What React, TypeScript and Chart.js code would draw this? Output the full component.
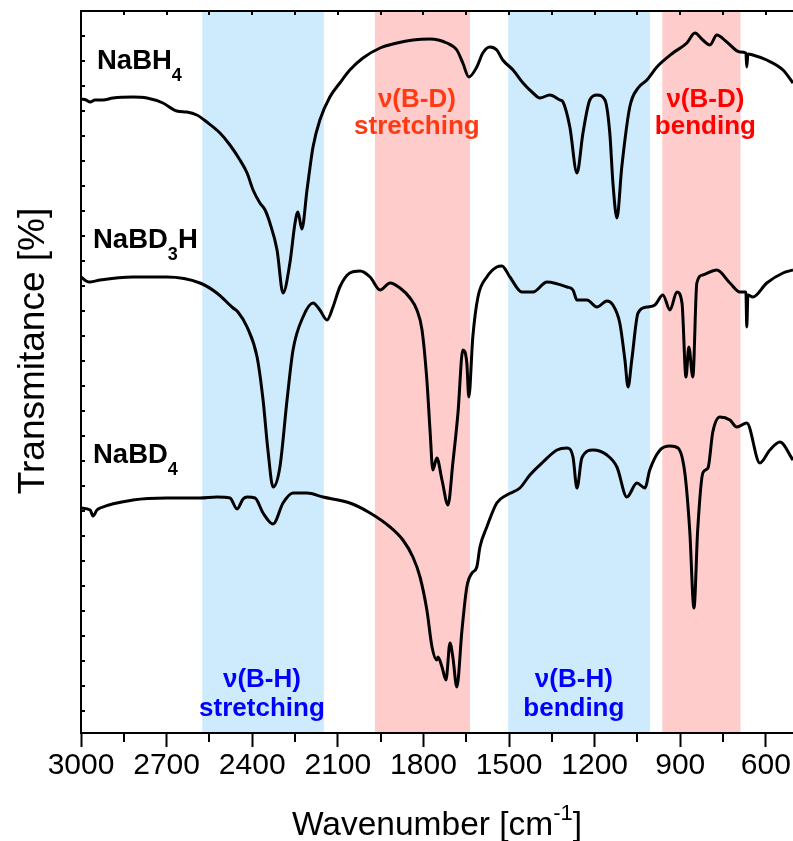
import React, { useEffect, useRef } from "react";
import { Chart, registerables } from "chart.js";

Chart.register(...registerables);

// ---------- data (wavenumber in cm-1, transmittance in arbitrary offset units) ----------
const nabh4Wn = [3000, 2982, 2968, 2951, 2923, 2888, 2818, 2769, 2713, 2664, 2629, 2594, 2559, 2513, 2478, 2443, 2418, 2397, 2373, 2355, 2338, 2313, 2292, 2268, 2250, 2240, 2226, 2208, 2187, 2163, 2128, 2093, 2058, 2012, 1952, 1893, 1837, 1777, 1718, 1683, 1662, 1641, 1613, 1592, 1567, 1543, 1522, 1486, 1451, 1416, 1392, 1357, 1322, 1311, 1287, 1262, 1241, 1217, 1192, 1164, 1147, 1136, 1122, 1105, 1077, 1048, 1017, 982, 926, 877, 849, 821, 796, 772, 737, 691, 670, 667, 663, 646, 597, 540, 505];
const nabh4T = [634, 633, 631, 633, 633, 635, 636, 635, 630, 622, 621, 618, 611, 600, 588, 573, 560, 543, 530, 523, 510, 483, 440, 470, 510, 521, 504, 543, 586, 613, 636, 650, 663, 675, 685, 690, 693, 694, 690, 683, 670, 656, 666, 680, 686, 683, 673, 663, 650, 640, 635, 638, 633, 631, 606, 560, 600, 633, 638, 633, 600, 550, 515, 566, 626, 645, 653, 666, 680, 690, 700, 693, 688, 698, 691, 681, 680, 666, 679, 678, 673, 663, 650];

const nabd3hWn = [3000, 2982, 2968, 2933, 2818, 2699, 2583, 2524, 2467, 2450, 2418, 2383, 2362, 2345, 2327, 2303, 2278, 2257, 2222, 2187, 2163, 2138, 2117, 2093, 2058, 2022, 1987, 1952, 1917, 1882, 1847, 1823, 1805, 1788, 1777, 1767, 1753, 1735, 1714, 1697, 1679, 1662, 1648, 1641, 1627, 1609, 1578, 1543, 1525, 1497, 1455, 1416, 1367, 1297, 1276, 1262, 1227, 1192, 1157, 1136, 1112, 1094, 1083, 1070, 1048, 1017, 989, 961, 936, 912, 894, 880, 870, 856, 842, 821, 772, 726, 691, 670, 667, 663, 646, 597, 540, 505];
const nabd3hT = [456, 452, 451, 453, 456, 456, 450, 440, 425, 421, 406, 376, 333, 283, 246, 266, 333, 383, 416, 430, 423, 413, 426, 446, 460, 462, 456, 443, 450, 445, 435, 423, 403, 353, 303, 263, 275, 253, 228, 270, 320, 383, 370, 336, 396, 436, 456, 466, 467, 456, 441, 441, 451, 446, 443, 433, 433, 426, 432, 428, 410, 373, 346, 373, 420, 426, 428, 438, 423, 441, 430, 356, 386, 356, 450, 458, 463, 450, 441, 441, 406, 438, 436, 450, 460, 463];

const nabd4Wn = [3000, 2968, 2958, 2944, 2933, 2818, 2699, 2583, 2524, 2478, 2453, 2432, 2418, 2390, 2362, 2327, 2292, 2257, 2208, 2152, 2058, 1987, 1917, 1872, 1837, 1812, 1788, 1770, 1753, 1749, 1735, 1721, 1707, 1697, 1683, 1665, 1648, 1630, 1613, 1602, 1578, 1543, 1508, 1462, 1427, 1381, 1332, 1297, 1276, 1262, 1245, 1206, 1157, 1122, 1087, 1052, 1024, 1007, 971, 936, 908, 884, 867, 852, 839, 821, 803, 786, 761, 726, 702, 667, 621, 586, 551, 505];
const nabd4T = [225, 223, 217, 223, 225, 233, 235, 235, 236, 235, 224, 234, 236, 235, 220, 209, 230, 240, 240, 236, 230, 220, 206, 193, 176, 156, 123, 86, 73, 76, 66, 53, 90, 76, 46, 103, 146, 160, 166, 186, 206, 230, 238, 245, 258, 271, 283, 285, 276, 245, 275, 283, 278, 266, 236, 250, 245, 263, 283, 287, 285, 260, 203, 125, 203, 260, 265, 301, 316, 313, 306, 310, 270, 283, 291, 273];

// shaded band limits (cm-1)
const bandStart = [2575, 1970, 1503, 963];
const bandEnd = [2149, 1637, 1006, 689];
const bandColor = ["#cdebfc", "#ffcccc", "#cdebfc", "#ffcccc"];

// band annotation texts and their centre wavenumbers
const annotTop = ["\u03bd(B-D)", "\u03bd(B-D)", "\u03bd(B-H)", "\u03bd(B-H)"];
const annotBottom = ["stretching", "bending", "stretching", "bending"];
const annotWn = [1823, 812, 2366, 1273];
const annotColor = ["#ff3a12", "#ff0000", "#0000ff", "#0000ff"];
const annotRow = ["top", "top", "bottom", "bottom"];

// axis ticks
const xMajorTicks = [3000, 2700, 2400, 2100, 1800, 1500, 1200, 900, 600];
const xMinorTicks = [2850, 2550, 2250, 1950, 1650, 1350, 1050, 750];
const X_MIN = 505;
const X_MAX = 3000;
const Y_MIN = 0;
const Y_MAX = 722;
const Y_TICK_STEP = 25;

const FONT = '"Liberation Sans", Arial, Helvetica, sans-serif';

function toPoints(xs: number[], ys: number[]) {
  return xs.map((x, i) => ({ x, y: ys[i] }));
}

function drawParts(
  ctx: CanvasRenderingContext2D,
  parts: { t: string; sub?: boolean; sup?: boolean }[],
  x: number,
  baseline: number,
  size: number,
  weight: string,
  align: "left" | "center"
) {
  const subSize = Math.round(size * 0.65);
  const widths = parts.map((p) => {
    ctx.font = `${weight} ${p.sub || p.sup ? subSize : size}px ${FONT}`;
    return ctx.measureText(p.t).width;
  });
  const total = widths.reduce((a, b) => a + b, 0);
  let cx = align === "center" ? x - total / 2 : x;
  ctx.textAlign = "left";
  ctx.textBaseline = "alphabetic";
  parts.forEach((p, i) => {
    ctx.font = `${weight} ${p.sub || p.sup ? subSize : size}px ${FONT}`;
    let by = baseline;
    if (p.sub) by = baseline + size * 0.42;
    if (p.sup) by = baseline - size * 0.45;
    ctx.fillText(p.t, cx, by);
    cx += widths[i];
  });
}

const decorPlugin = {
  id: "decor",
  beforeDraw(chart: any) {
    const { ctx, chartArea } = chart;
    const xs = chart.scales.x;
    ctx.save();
    bandStart.forEach((s, i) => {
      const a = xs.getPixelForValue(s);
      const b = xs.getPixelForValue(bandEnd[i]);
      ctx.fillStyle = bandColor[i];
      ctx.fillRect(Math.min(a, b), chartArea.top, Math.abs(b - a), chartArea.bottom - chartArea.top);
    });
    ctx.restore();
  },
  afterDraw(chart: any) {
    const { ctx, chartArea } = chart;
    const xs = chart.scales.x;
    const ys = chart.scales.y;
    ctx.save();
    ctx.strokeStyle = "#000";
    ctx.lineWidth = 2;
    ctx.lineCap = "butt";
    // left axis and top border
    ctx.beginPath();
    ctx.moveTo(chartArea.left, chartArea.bottom + 1);
    ctx.lineTo(chartArea.left, chartArea.top);
    ctx.lineTo(chartArea.right, chartArea.top);
    ctx.stroke();
    // top ticks (inward)
    [...xMajorTicks, ...xMinorTicks].forEach((v) => {
      const px = Math.round(xs.getPixelForValue(v));
      ctx.beginPath();
      ctx.moveTo(px, chartArea.top);
      ctx.lineTo(px, chartArea.top + 4);
      ctx.stroke();
    });
    // bottom minor ticks (outward)
    xMinorTicks.forEach((v) => {
      const px = Math.round(xs.getPixelForValue(v));
      ctx.beginPath();
      ctx.moveTo(px, chartArea.bottom);
      ctx.lineTo(px, chartArea.bottom + 9);
      ctx.stroke();
    });
    // left ticks (inward)
    for (let v = Y_MAX - Y_TICK_STEP; v > Y_MIN; v -= Y_TICK_STEP) {
      const py = Math.round(ys.getPixelForValue(v));
      ctx.beginPath();
      ctx.moveTo(chartArea.left, py);
      ctx.lineTo(chartArea.left + 4, py);
      ctx.stroke();
    }

    ctx.fillStyle = "#000";
    // sample labels
    drawParts(ctx, [{ t: "NaBH" }, { t: "4", sub: true }], 97, 69, 27.5, "bold", "left");
    drawParts(ctx, [{ t: "NaBD" }, { t: "3", sub: true }, { t: "H" }], 93, 248, 27.5, "bold", "left");
    drawParts(ctx, [{ t: "NaBD" }, { t: "4", sub: true }], 93, 463, 27.5, "bold", "left");

    // band annotations
    annotTop.forEach((t, i) => {
      const cx = xs.getPixelForValue(annotWn[i]);
      const y1 = annotRow[i] === "top" ? 107 : 687;
      const y2 = annotRow[i] === "top" ? 134 : 716;
      ctx.fillStyle = annotColor[i];
      ctx.font = `bold 26px ${FONT}`;
      ctx.textAlign = "center";
      ctx.textBaseline = "alphabetic";
      ctx.fillText(t, cx, y1);
      ctx.fillText(annotBottom[i], cx, y2);
    });

    // axis titles
    ctx.fillStyle = "#000";
    drawParts(
      ctx,
      [{ t: "Wavenumber [cm" }, { t: "-1", sup: true }, { t: "]" }],
      (chartArea.left + chartArea.right) / 2,
      835,
      33.5,
      "normal",
      "center"
    );
    ctx.save();
    ctx.translate(44, 351);
    ctx.rotate(-Math.PI / 2);
    ctx.font = `normal 37px ${FONT}`;
    ctx.textAlign = "center";
    ctx.textBaseline = "alphabetic";
    ctx.fillText("Transmitance [%]", 0, 0);
    ctx.restore();
    ctx.restore();
  },
};

export default function App() {
  const canvasRef = useRef<HTMLCanvasElement | null>(null);

  useEffect(() => {
    document.body.style.margin = "0";
    const canvas = canvasRef.current;
    if (!canvas) return;
    const line = (xs: number[], ys: number[], label: string) => ({
      label,
      data: toPoints(xs, ys),
      borderColor: "#000",
      borderWidth: 3,
      pointRadius: 0,
      cubicInterpolationMode: "monotone" as const,
      fill: false,
    });
    const chart = new Chart(canvas, {
      type: "line",
      data: {
        datasets: [
          line(nabh4Wn, nabh4T, "NaBH4"),
          line(nabd3hWn, nabd3hT, "NaBD3H"),
          line(nabd4Wn, nabd4T, "NaBD4"),
        ],
      },
      options: {
        responsive: false,
        animation: false,
        devicePixelRatio: 1,
        layout: { padding: { left: 81, top: 11, right: 0, bottom: 0 } },
        plugins: { legend: { display: false }, tooltip: { enabled: false } },
        scales: {
          x: {
            type: "linear",
            min: X_MIN,
            max: X_MAX,
            reverse: true,
            afterBuildTicks: (scale: any) => {
              scale.ticks = xMajorTicks.map((v) => ({ value: v }));
            },
            afterFit: (scale: any) => {
              scale.height = 108;
            },
            ticks: {
              autoSkip: false,
              maxRotation: 0,
              padding: 1,
              color: "#000",
              font: { family: FONT, size: 30 },
              callback: (v: any) => String(v),
            },
            grid: {
              display: true,
              drawOnChartArea: false,
              drawTicks: true,
              tickLength: 14,
              tickWidth: 2,
              tickColor: "#000",
            },
            border: { display: true, color: "#000", width: 2 },
          },
          y: {
            type: "linear",
            display: false,
            min: Y_MIN,
            max: Y_MAX,
          },
        },
      },
      plugins: [decorPlugin],
    });
    return () => chart.destroy();
  }, []);

  return (
    <div style={{ position: "fixed", left: 0, top: 0, width: 793, height: 841, background: "#fff" }}>
      <canvas ref={canvasRef} width={793} height={841} style={{ width: 793, height: 841, display: "block" }} />
    </div>
  );
}
